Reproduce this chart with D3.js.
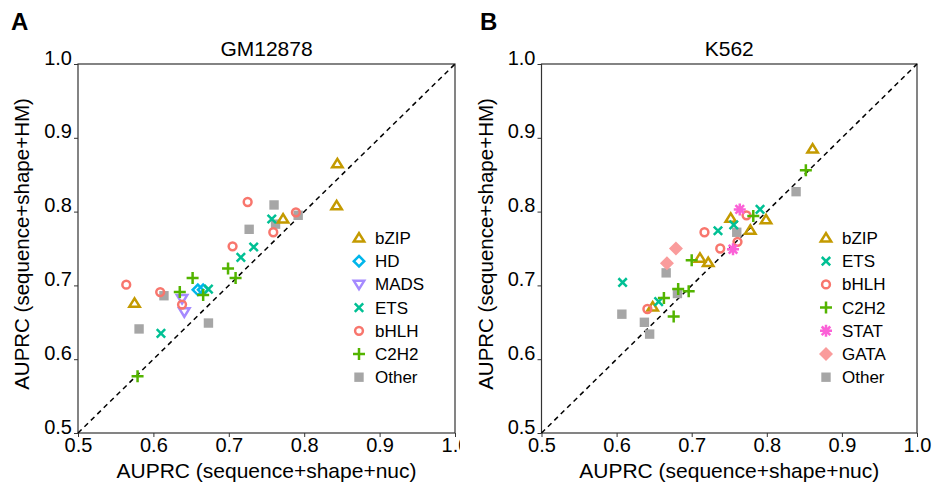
<!DOCTYPE html>
<html>
<head>
<meta charset="utf-8">
<script src="https://cdn.jsdelivr.net/npm/d3@7"></script>
<style>
  body { margin: 0; background: #fff; }
  text { font-family: "Liberation Sans", Arial, Helvetica, sans-serif; fill: #000; }
</style>
</head>
<body>
<svg id="chart" width="934" height="488"></svg>
<script>
// ---- data: [AUPRC seq+shape+nuc, AUPRC seq+shape+HM] ----
var ticks = [0.5, 0.6, 0.7, 0.8, 0.9, 1.0];

// GM12878
var gmBZIP  = [[0.844, 0.865], [0.843, 0.808], [0.772, 0.790], [0.575, 0.676]];
var gmHD    = [[0.659, 0.694], [0.666, 0.694]];
var gmMADS  = [[0.638, 0.682], [0.641, 0.664]];
var gmETS   = [[0.757, 0.790], [0.733, 0.752], [0.716, 0.738], [0.673, 0.695], [0.610, 0.635]];
var gmBHLH  = [[0.725, 0.813], [0.789, 0.799], [0.759, 0.772], [0.705, 0.753], [0.564, 0.701], [0.609, 0.691], [0.638, 0.674]];
var gmC2H2  = [[0.699, 0.723], [0.709, 0.710], [0.652, 0.710], [0.635, 0.691], [0.666, 0.687], [0.579, 0.577]];
var gmOther = [[0.760, 0.809], [0.727, 0.776], [0.792, 0.795], [0.762, 0.783], [0.614, 0.686], [0.581, 0.641], [0.673, 0.649]];

// K562
var kBZIP  = [[0.861, 0.885], [0.752, 0.791], [0.778, 0.775], [0.799, 0.789], [0.711, 0.737], [0.722, 0.731], [0.648, 0.671]];
var kETS   = [[0.791, 0.803], [0.756, 0.782], [0.735, 0.774], [0.608, 0.704], [0.656, 0.678]];
var kBHLH  = [[0.773, 0.795], [0.717, 0.772], [0.738, 0.750], [0.761, 0.759], [0.641, 0.668]];
var kC2H2  = [[0.852, 0.856], [0.782, 0.794], [0.700, 0.734], [0.682, 0.695], [0.696, 0.692], [0.663, 0.683], [0.676, 0.658]];
var kSTAT  = [[0.764, 0.803], [0.755, 0.749]];
var kGATA  = [[0.679, 0.750], [0.667, 0.730]];
var kOther = [[0.839, 0.827], [0.760, 0.772], [0.666, 0.717], [0.681, 0.689], [0.607, 0.661], [0.637, 0.650], [0.644, 0.634]];

var colors = {
  bZIP: "#C49A00", HD: "#00B6EB", MADS: "#A58AFF", ETS: "#00C094",
  bHLH: "#F8766D", C2H2: "#53B400", STAT: "#FB61D7", GATA: "#FA9C9C", Other: "#A6A6A6"
};
var shapes = {
  bZIP: "triUp", HD: "diamond", MADS: "triDown", ETS: "x", bHLH: "circle",
  C2H2: "plus", STAT: "star", GATA: "diamondFill", Other: "square"
};

var panels = [
  { letter: "A", title: "GM12878", x0: 78, x1: 455, clipLeft: 0, clipRight: 460,
    legendX: 359,
    order: ["bZIP", "HD", "MADS", "ETS", "bHLH", "C2H2", "Other"],
    data: { bZIP: gmBZIP, HD: gmHD, MADS: gmMADS, ETS: gmETS, bHLH: gmBHLH, C2H2: gmC2H2, Other: gmOther } },
  { letter: "B", title: "K562", x0: 541.5, x1: 917, clipLeft: 467, clipRight: 934,
    legendX: 826,
    order: ["bZIP", "ETS", "bHLH", "C2H2", "STAT", "GATA", "Other"],
    data: { bZIP: kBZIP, ETS: kETS, bHLH: kBHLH, C2H2: kC2H2, STAT: kSTAT, GATA: kGATA, Other: kOther } }
];

var svg = d3.select("#chart");

// marker paths, centred on 0,0
function shapePath(s) {
  switch (s) {
    case "triUp": return "M0,-4.8L5.2,3.6L-5.2,3.6Z";
    case "triDown": return "M0,4.8L5.2,-3.6L-5.2,-3.6Z";
    case "diamond": return "M0,-5.2L5.2,0L0,5.2L-5.2,0Z";
    case "diamondFill": return "M0,-7L7,0L0,7L-7,0Z";
    case "x": return "M-4.2,-4.2L4.2,4.2M-4.2,4.2L4.2,-4.2";
    case "plus": return "M-6,0L6,0M0,-6L0,6";
    case "star": return "M-6,0L6,0M0,-6L0,6M-4.3,-4.3L4.3,4.3M-4.3,4.3L4.3,-4.3";
    case "square": return "M-4.7,-4.7H4.7V4.7H-4.7Z";
  }
}

function drawMarker(g, fam, cx, cy) {
  var s = shapes[fam];
  var filled = (s == "square" || s == "diamondFill");
  var p;
  if (s == "circle") {
    p = g.append("circle").attr("cx", cx).attr("cy", cy).attr("r", 3.9);
  } else {
    p = g.append("path").attr("d", shapePath(s))
      .attr("transform", "translate(" + cx + "," + cy + ")");
  }
  if (filled) {
    p.attr("fill", colors[fam]).attr("stroke", "none");
  } else {
    p.attr("fill", "none").attr("stroke", colors[fam]).attr("stroke-width", 2.5);
  }
  return p;
}

panels.forEach(function(pn, i) {
  var x = d3.scaleLinear().domain([0.5, 1]).range([pn.x0, pn.x1]);
  var y = d3.scaleLinear().domain([0.5, 1]).range([433, 64]);

  // panel A's last x label is cut off in the original
  var clipId = "clip" + i;
  svg.append("clipPath").attr("id", clipId)
    .append("rect").attr("x", pn.clipLeft).attr("y", 0)
    .attr("width", pn.clipRight - pn.clipLeft).attr("height", 488);

  var g = svg.append("g").attr("clip-path", "url(#" + clipId + ")");

  // panel letter + title
  g.append("text").attr("x", i == 0 ? 11 : 480).attr("y", 30)
    .style("font-size", "24px").style("font-weight", "bold").text(pn.letter);
  g.append("text").attr("x", (pn.x0 + pn.x1) / 2).attr("y", 56)
    .attr("text-anchor", "middle").style("font-size", "21px").text(pn.title);

  // axes
  var xAxis = d3.axisBottom(x).tickValues(ticks).tickFormat(d3.format(".1f")).tickSize(4).tickSizeOuter(0);
  var yAxis = d3.axisLeft(y).tickValues(ticks).tickFormat(d3.format(".1f")).tickSize(4).tickSizeOuter(0);

  var gx = g.append("g").attr("transform", "translate(0,433)").call(xAxis);
  gx.select(".domain").remove();
  gx.selectAll("line").attr("stroke", "#333");
  gx.selectAll("text").style("font-size", "20px").attr("y", 3).attr("dy", "0.8em").attr("fill", "#000");

  var gy = g.append("g").attr("transform", "translate(" + pn.x0 + ",0)").call(yAxis);
  gy.select(".domain").remove();
  gy.selectAll("line").attr("stroke", "#333");
  gy.selectAll("text").style("font-size", "20px").attr("x", -6).attr("dy", "0").attr("fill", "#000");

  // frame
  g.append("rect").attr("x", pn.x0).attr("y", 64)
    .attr("width", pn.x1 - pn.x0).attr("height", 433 - 64)
    .attr("fill", "none").attr("stroke", "#333").attr("stroke-width", 1.2);

  // diagonal
  g.append("line")
    .attr("x1", x(0.5)).attr("y1", y(0.5)).attr("x2", x(1)).attr("y2", y(1))
    .attr("stroke", "#000").attr("stroke-width", 1.5).attr("stroke-dasharray", "5,4");

  // axis titles
  g.append("text").attr("x", (pn.x0 + pn.x1) / 2).attr("y", 478)
    .attr("text-anchor", "middle").style("font-size", "21px")
    .text("AUPRC (sequence+shape+nuc)");
  g.append("text")
    .attr("transform", "translate(" + (pn.x0 - 56) + ",244) rotate(-90)")
    .attr("dy", "0.35em")
    .attr("text-anchor", "middle").style("font-size", "20.5px")
    .text("AUPRC (sequence+shape+HM)");

  // points: Other first, the rest on top in legend order
  var drawOrder = ["Other"].concat(pn.order.filter(function(f) { return f != "Other"; }));
  var pts = g.append("g");
  drawOrder.forEach(function(fam) {
    pn.data[fam].forEach(function(d) {
      drawMarker(pts, fam, x(d[0]), y(d[1]));
    });
  });

  // legend
  var lg = g.append("g");
  pn.order.forEach(function(fam, k) {
    var cy = 238 + k * 23.2;
    drawMarker(lg, fam, pn.legendX, cy);
    lg.append("text").attr("x", pn.legendX + 16).attr("y", cy + 6)
      .style("font-size", "17px").text(fam);
  });
});
</script>
</body>
</html>
